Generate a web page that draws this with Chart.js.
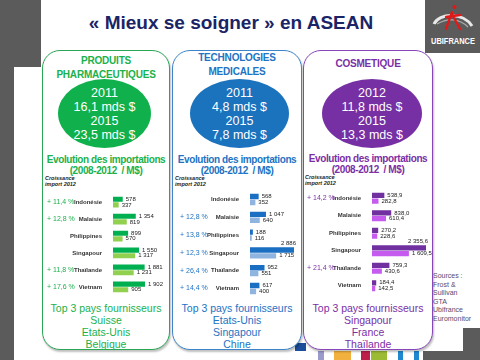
<!DOCTYPE html>
<html><head><meta charset="utf-8">
<script src="https://cdn.jsdelivr.net/npm/chart.js@4.4.1/dist/chart.umd.min.js"></script>
<style>
html,body{margin:0;padding:0;width:480px;height:360px;overflow:hidden;background:#fff;font-family:"Liberation Sans",Arial,sans-serif;}
.abs{position:absolute;}
.gray{background:#5b5b5b;}
.box{position:absolute;top:50px;height:300px;border-radius:18px;border:1.5px solid;box-sizing:border-box;background:#fff;box-shadow:1px 2px 2px rgba(0,0,0,0.25);}
.ttl{position:absolute;left:0;width:100%;text-align:center;font-weight:bold;font-size:10px;line-height:14px;white-space:nowrap;letter-spacing:-0.2px;}
.ell{position:absolute;border-radius:50%;color:#fff;text-align:center;font-size:12.5px;line-height:14px;box-sizing:border-box;padding-top:7px;white-space:nowrap;}
.evo{position:absolute;left:0;width:100%;text-align:center;font-weight:bold;font-size:10px;line-height:11px;white-space:nowrap;letter-spacing:-0.4px;}
.top3{position:absolute;left:0;width:100%;text-align:center;font-size:10.5px;line-height:12px;white-space:nowrap;}
.cr{position:absolute;font-size:5.5px;font-weight:bold;font-style:italic;color:#222;line-height:6px;}
canvas{position:absolute;}
</style></head>
<body>
<div class="abs gray" style="left:0;top:0;width:41px;height:67px;"></div>
<div class="abs gray" style="left:0;top:0;width:14px;height:360px;"></div>
<div class="abs gray" style="left:425px;top:0;width:55px;height:53px;"></div>
<div class="abs gray" style="left:463px;top:328px;width:17px;height:32px;"></div>
<div class="abs gray" style="left:423px;top:351px;width:57px;height:9px;"></div>
<div class="abs" style="left:318px;top:351px;width:6px;height:9px;background:#9a9acb"></div>
<div class="abs" style="left:334px;top:351px;width:17px;height:9px;background:#f2b13e"></div>
<div class="abs" style="left:361px;top:351px;width:9px;height:9px;background:#be1e4a"></div>
<div class="abs" style="left:371px;top:351px;width:16px;height:9px;background:#9cbb35"></div>
<div class="abs" style="left:398px;top:351px;width:5px;height:9px;background:#1e88d0"></div>
<div class="abs" style="left:414px;top:351px;width:5px;height:9px;background:#1e88d0"></div>
<div class="abs" style="left:295px;top:343px;width:11px;height:8px;background:#1b4f9a"></div>

<svg class="abs" style="left:425px;top:0" width="55" height="53">
  <path d="M9 24 C 14 13, 38 12, 47 26" stroke="#e8e8e8" stroke-width="3" fill="none"/>
  <path d="M12 24 C 22 18, 34 18, 43 27" stroke="#aaaaaa" stroke-width="1.2" fill="none"/>
  <path d="M27 12 L 21 29 M 27 14 L 35 29 M 21 17 L 35 15" stroke="#e01818" stroke-width="2.3" fill="none" stroke-linecap="round"/>
  <circle cx="29.5" cy="7" r="2" fill="#e01818"/>
  <text x="28" y="44" fill="#fff" font-family="Liberation Sans Narrow, Liberation Sans, Arial" font-weight="bold" font-size="8.5" text-anchor="middle" textLength="44" lengthAdjust="spacingAndGlyphs">UBIFRANCE</text>
</svg>

<div class="abs" style="left:41px;top:12px;width:380px;text-align:center;font-weight:bold;font-size:19px;color:#1a2466;">« Mieux se soigner » en ASEAN</div>

<div class="box" style="left:42px;width:128px;border-color:#2aa655;">
  <div class="ttl" style="top:3px;color:#1bb14c;">PRODUITS<br>PHARMACEUTIQUES</div>
  <div class="ell" style="left:15px;top:28px;width:93px;height:69px;background:#10b14c;">2011<br>16,1 mds $<br>2015<br>23,5 mds $</div>
  <div class="evo" style="top:103px;color:#1bb14c;">Evolution des importations<br>(2008-2012 &nbsp;/ M$)</div>
  <div class="top3" style="top:251px;color:#1bb14c;">Top 3 pays fournisseurs<br>Suisse<br>Etats-Unis<br>Belgique</div>
</div>
<div class="box" style="left:172px;width:130px;border-color:#3d84c9;">
  <div class="ttl" style="top:0px;color:#2273c3;">TECHNOLOGIES<br>MEDICALES</div>
  <div class="ell" style="left:17px;top:28px;width:99px;height:69px;background:#1b72bd;">2011<br>4,8 mds $<br>2015<br>7,8 mds $</div>
  <div class="evo" style="top:103px;color:#2273c3;">Evolution des importations<br>(2008-2012 &nbsp;/ M$)</div>
  <div class="top3" style="top:251px;color:#2273c3;">Top 3 pays fournisseurs<br>Etats-Unis<br>Singapour<br>Chine</div>
</div>
<div class="box" style="left:303px;width:130px;border-color:#8747b8;">
  <div class="ttl" style="top:6px;color:#7a2fa5;">COSMETIQUE</div>
  <div class="ell" style="left:18px;top:28px;width:100px;height:69px;background:#7630a3;">2012<br>11,8 mds $<br>2015<br>13,3 mds $</div>
  <div class="evo" style="top:102px;color:#7a2fa5;">Evolution des importations<br>(2008-2012 &nbsp;/ M$)</div>
  <div class="top3" style="top:251px;color:#7a2fa5;">Top 3 pays fournisseurs<br>Singapour<br>France<br>Thaïlande</div>
</div>

<div class="cr" style="left:45px;top:175px;">Croissance<br>import 2012</div>
<div class="cr" style="left:175px;top:175px;">Croissance<br>import 2012</div>
<div class="cr" style="left:305px;top:174px;">Croissance<br>import 2012</div>

<div class="abs" style="left:433px;top:272px;font-size:7px;line-height:8.5px;color:#5a4a6a;">Sources :<br>Frost &amp;<br>Sullivan<br>GTA<br>Ubifrance<br>Euromonitor</div>

<canvas id="c1" width="124" height="115" style="left:44px;top:187px;"></canvas>
<canvas id="c2" width="124" height="120" style="left:174px;top:184px;"></canvas>
<canvas id="c3" width="134" height="118" style="left:304px;top:183px;"></canvas>

<script>
const categories = ['Indonésie','Malaisie','Philippines','Singapour','Thaïlande','Vietnam'];

const pharma2012 = [578, 1354, 899, 1550, 1881, 1902];
const pharma2008 = [337, 819, 570, 1317, 1231, 905];
const pharmaGrowth = ['+ 11,4 %', '+ 12,8 %', '', '', '+ 11,8 %', '+ 17,6 %'];

const medtech2012 = [568, 1047, 188, 2886, 952, 617];
const medtech2008 = [352, 640, 116, 1715, 551, 400];
const medtechGrowth = ['', '+ 12,8 %', '+ 13,8 %', '+ 12,3 %', '+ 26,4 %', '+ 14,4 %'];

const cosme2012 = [538.9, 838.0, 270.2, 2355.6, 759.3, 184.4];
const cosme2008 = [282.8, 610.4, 228.6, 1609.5, 430.6, 142.5];
const cosmeGrowth = ['+ 14,2 %', '', '', '', '+ 21,4 %', ''];

function fmt(v, dec){
  const s = dec ? v.toFixed(1) : String(Math.round(v));
  let [ip, dp] = s.split('.');
  ip = ip.replace(/\B(?=(\d{3})+(?!\d))/g, ' ');
  return dp !== undefined ? ip + ',' + dp : ip;
}

function makeChart(id, d2012, d2008, growth, opt){
  const labelPlugin = {
    id: 'labels' + id,
    afterDatasetsDraw(chart){
      const ctx = chart.ctx;
      ctx.save();
      ctx.font = '6px "Liberation Sans", Arial';
      ctx.fillStyle = '#222';
      chart.data.datasets.forEach((ds, di) => {
        const meta = chart.getDatasetMeta(di);
        meta.data.forEach((bar, i) => {
          const t = fmt(ds.data[i], opt.dec);
          const w = ctx.measureText(t).width;
          if (di === 0 && bar.x + 3 + w > opt.limit) {
            ctx.textAlign = 'right';
            ctx.textBaseline = 'bottom';
            ctx.fillText(t, bar.x + 2, bar.y - bar.height / 2 - 0.5);
          } else {
            ctx.textAlign = 'left';
            ctx.textBaseline = 'middle';
            ctx.fillText(t, bar.x + 3, bar.y);
          }
        });
      });
      const ys = chart.scales.y;
      ctx.font = '7px "Liberation Sans", Arial';
      ctx.fillStyle = opt.gcolor;
      ctx.textAlign = 'left';
      ctx.textBaseline = 'middle';
      growth.forEach((g, i) => { if (g) ctx.fillText(g, opt.gx, ys.getPixelForValue(i)); });
      ctx.restore();
    }
  };
  return new Chart(document.getElementById(id), {
    type: 'bar',
    data: {
      labels: categories,
      datasets: [
        { label: '2012', data: d2012, backgroundColor: opt.c1, categoryPercentage: 0.66, barPercentage: 0.92 },
        { label: '2008', data: d2008, backgroundColor: opt.c2, categoryPercentage: 0.66, barPercentage: 0.92 }
      ]
    },
    options: {
      indexAxis: 'y',
      responsive: false,
      animation: false,
      devicePixelRatio: 1,
      layout: { padding: { left: 0, right: opt.rp, top: 0, bottom: 0 } },
      plugins: { legend: { display: false }, tooltip: { enabled: false } },
      scales: {
        x: { display: false, min: 0, max: opt.xmax },
        y: {
          grid: { display: false }, border: { display: false },
          ticks: { color: '#333', font: { family: '"Liberation Sans", Arial', size: 6, weight: 'bold' }, padding: 3 },
          afterFit(s){ s.width = opt.yw; }
        }
      }
    },
    plugins: [labelPlugin]
  });
}

makeChart('c1', pharma2012, pharma2008, pharmaGrowth, { c1: '#00b050', c2: '#92d050', gcolor: '#1bb14c', xmax: 3270, yw: 69, gx: 3, dec: false, rp: 0, limit: 124 });
makeChart('c2', medtech2012, medtech2008, medtechGrowth, { c1: '#1a6fc2', c2: '#8fb4e0', gcolor: '#2273c3', xmax: 3148, yw: 76, gx: 6, dec: false, rp: 0, limit: 124 });
makeChart('c3', cosme2012, cosme2008, cosmeGrowth, { c1: '#7030a0', c2: '#c65bef', gcolor: '#7a2fa5', xmax: 2617, yw: 68, gx: 3, dec: true, rp: 6, limit: 128 });
</script>
</body></html>
